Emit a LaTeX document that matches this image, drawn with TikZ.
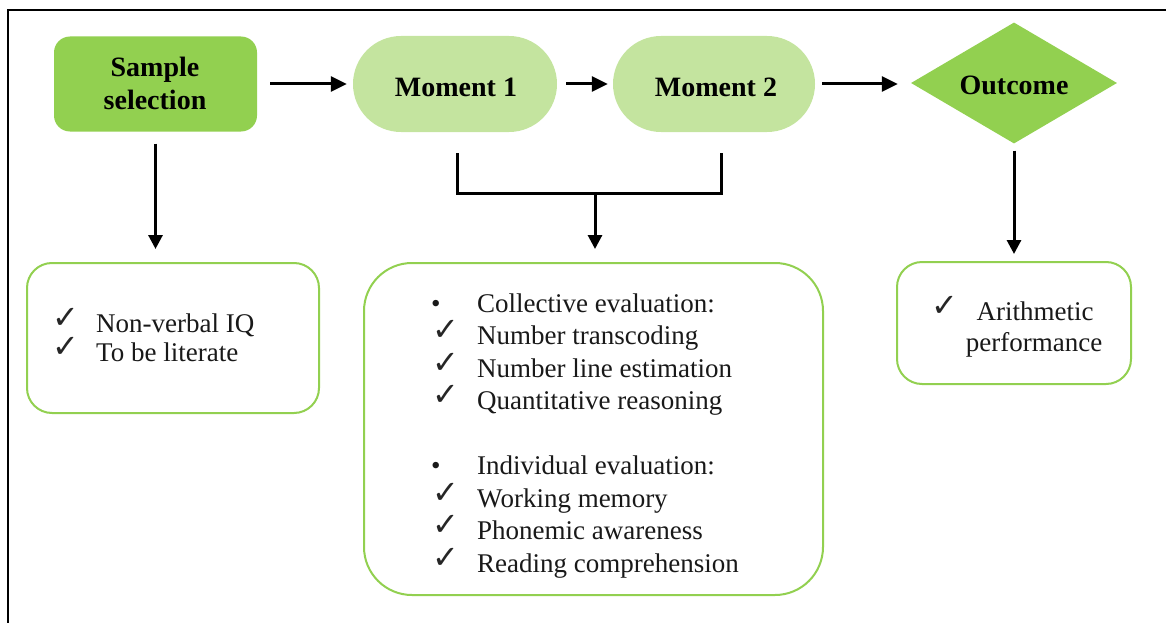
\documentclass[tikz,border=0pt]{standalone}
\usepackage{fontspec}
\setmainfont{Liberation Serif}
\newfontfamily\symfont{DejaVu Sans}
\usetikzlibrary{shapes.geometric,arrows.meta}
\definecolor{gA}{HTML}{92D050}
\definecolor{gB}{HTML}{C4E49F}
\begin{document}
\begin{tikzpicture}[x=1pt,y=-1pt,
  arr/.style={line width=3pt,-{Triangle[length=14pt,width=14pt]}},
  arrh/.style={line width=3pt,-{Triangle[length=16pt,width=15pt]}},
  lnk/.style={line width=3pt},
  hd/.style={font=\fontsize{28}{33}\selectfont\bfseries, text=black, anchor=base, inner sep=0},
  bx/.style={draw=gA, line width=2pt, fill=white, inner sep=0},
  tx/.style={font=\fontsize{27}{32}\selectfont, anchor=base west, inner sep=0, text=black!90},
  txc/.style={font=\fontsize{27}{32}\selectfont, anchor=base, inner sep=0, text=black!90},
  ck/.style={font=\symfont\fontsize{32}{34}\selectfont, anchor=base west, inner sep=0, text=black!85},
]
\useasboundingbox (0,0) rectangle (1166,623);
\draw[line width=2pt] (8,623) -- (8,10) -- (1166,10);

% top row shapes
\node[fill=gA, rounded corners=16, minimum width=203, minimum height=95, inner sep=0] (samp) at (155.5,84) {};
\node[hd] (sampt1) at (155,77) {Sample};
\node[hd] (sampt2) at (155,110) {selection};

\node[fill=gB, rounded corners=48, minimum width=204, minimum height=96, inner sep=0] (m1) at (455,84) {};
\node[hd] (m1t) at (456,97) {Moment 1};

\node[fill=gB, rounded corners=48, minimum width=202, minimum height=96, inner sep=0] (m2) at (714,84) {};
\node[hd] (m2t) at (716,97) {Moment 2};

\node[diamond, fill=gA, aspect=1.7, minimum width=206, minimum height=121, inner sep=0] (out) at (1014,83) {};
\node[hd] (outt) at (1014,95) {Outcome};

% boxes
\node[bx, rounded corners=25, minimum width=292, minimum height=150] (lb) at (173,338) {};
\node[bx, rounded corners=48, minimum width=459, minimum height=332] (mb) at (593.5,429) {};
\node[bx, rounded corners=25, minimum width=234, minimum height=122] (rb) at (1014,323) {};

% left box text
\node[ck] (lc1) at (52,328) {✓};
\node[tx] (lt1) at (96,332) {Non-verbal IQ};
\node[ck] (lc2) at (52,357) {✓};
\node[tx] (lt2) at (96,361) {To be literate};

% middle box text
\node[tx] (mc1) at (431,312) {•};
\node[tx] (mt1) at (477,312) {Collective evaluation:};
\node[ck] (mc2) at (432,340) {✓};
\node[tx] (mt2) at (477,344) {Number transcoding};
\node[ck] (mc3) at (432,373) {✓};
\node[tx] (mt3) at (477,377) {Number line estimation};
\node[ck] (mc4) at (432,405) {✓};
\node[tx] (mt4) at (477,409) {Quantitative reasoning};
\node[tx] (mc5) at (431,474) {•};
\node[tx] (mt5) at (477,474) {Individual evaluation:};
\node[ck] (mc6) at (432,503) {✓};
\node[tx] (mt6) at (477,507) {Working memory};
\node[ck] (mc7) at (432,535) {✓};
\node[tx] (mt7) at (477,539) {Phonemic awareness};
\node[ck] (mc8) at (432,568) {✓};
\node[tx] (mt8) at (477,572) {Reading comprehension};

% right box text
\node[ck] (rc1) at (931,316) {✓};
\node[txc] (rt1) at (1035,320) {Arithmetic};
\node[txc] (rt2) at (1034,351) {performance};

% connectors
\draw[arrh, shorten <=13pt, shorten >=6pt] (samp.east) -- (m1.west);
\draw[arrh, shorten <=9pt, shorten >=5pt] (m1.east) -- (m2.west);
\draw[arrh, shorten <=7pt, shorten >=13pt] (m2.east) -- (out.west |- m2.east);
\draw[arr, shorten <=12pt, shorten >=13pt] (samp.south) -- (lb.north -| samp.south);
\draw[arr, shorten <=7pt, shorten >=7pt] (out.south) -- (rb.north);

\coordinate (b1) at (457,153);
\coordinate (b2) at (457,193);
\coordinate (b3) at (721,193);
\coordinate (b4) at (721,153);
\coordinate (b5) at (595,193);
\draw[lnk, line join=miter] (b1) -- (b2) -- (b3) -- (b4);
\draw[arr, shorten >=13pt] (b5) -- (b5 |- mb.north);
\end{tikzpicture}
\end{document}
